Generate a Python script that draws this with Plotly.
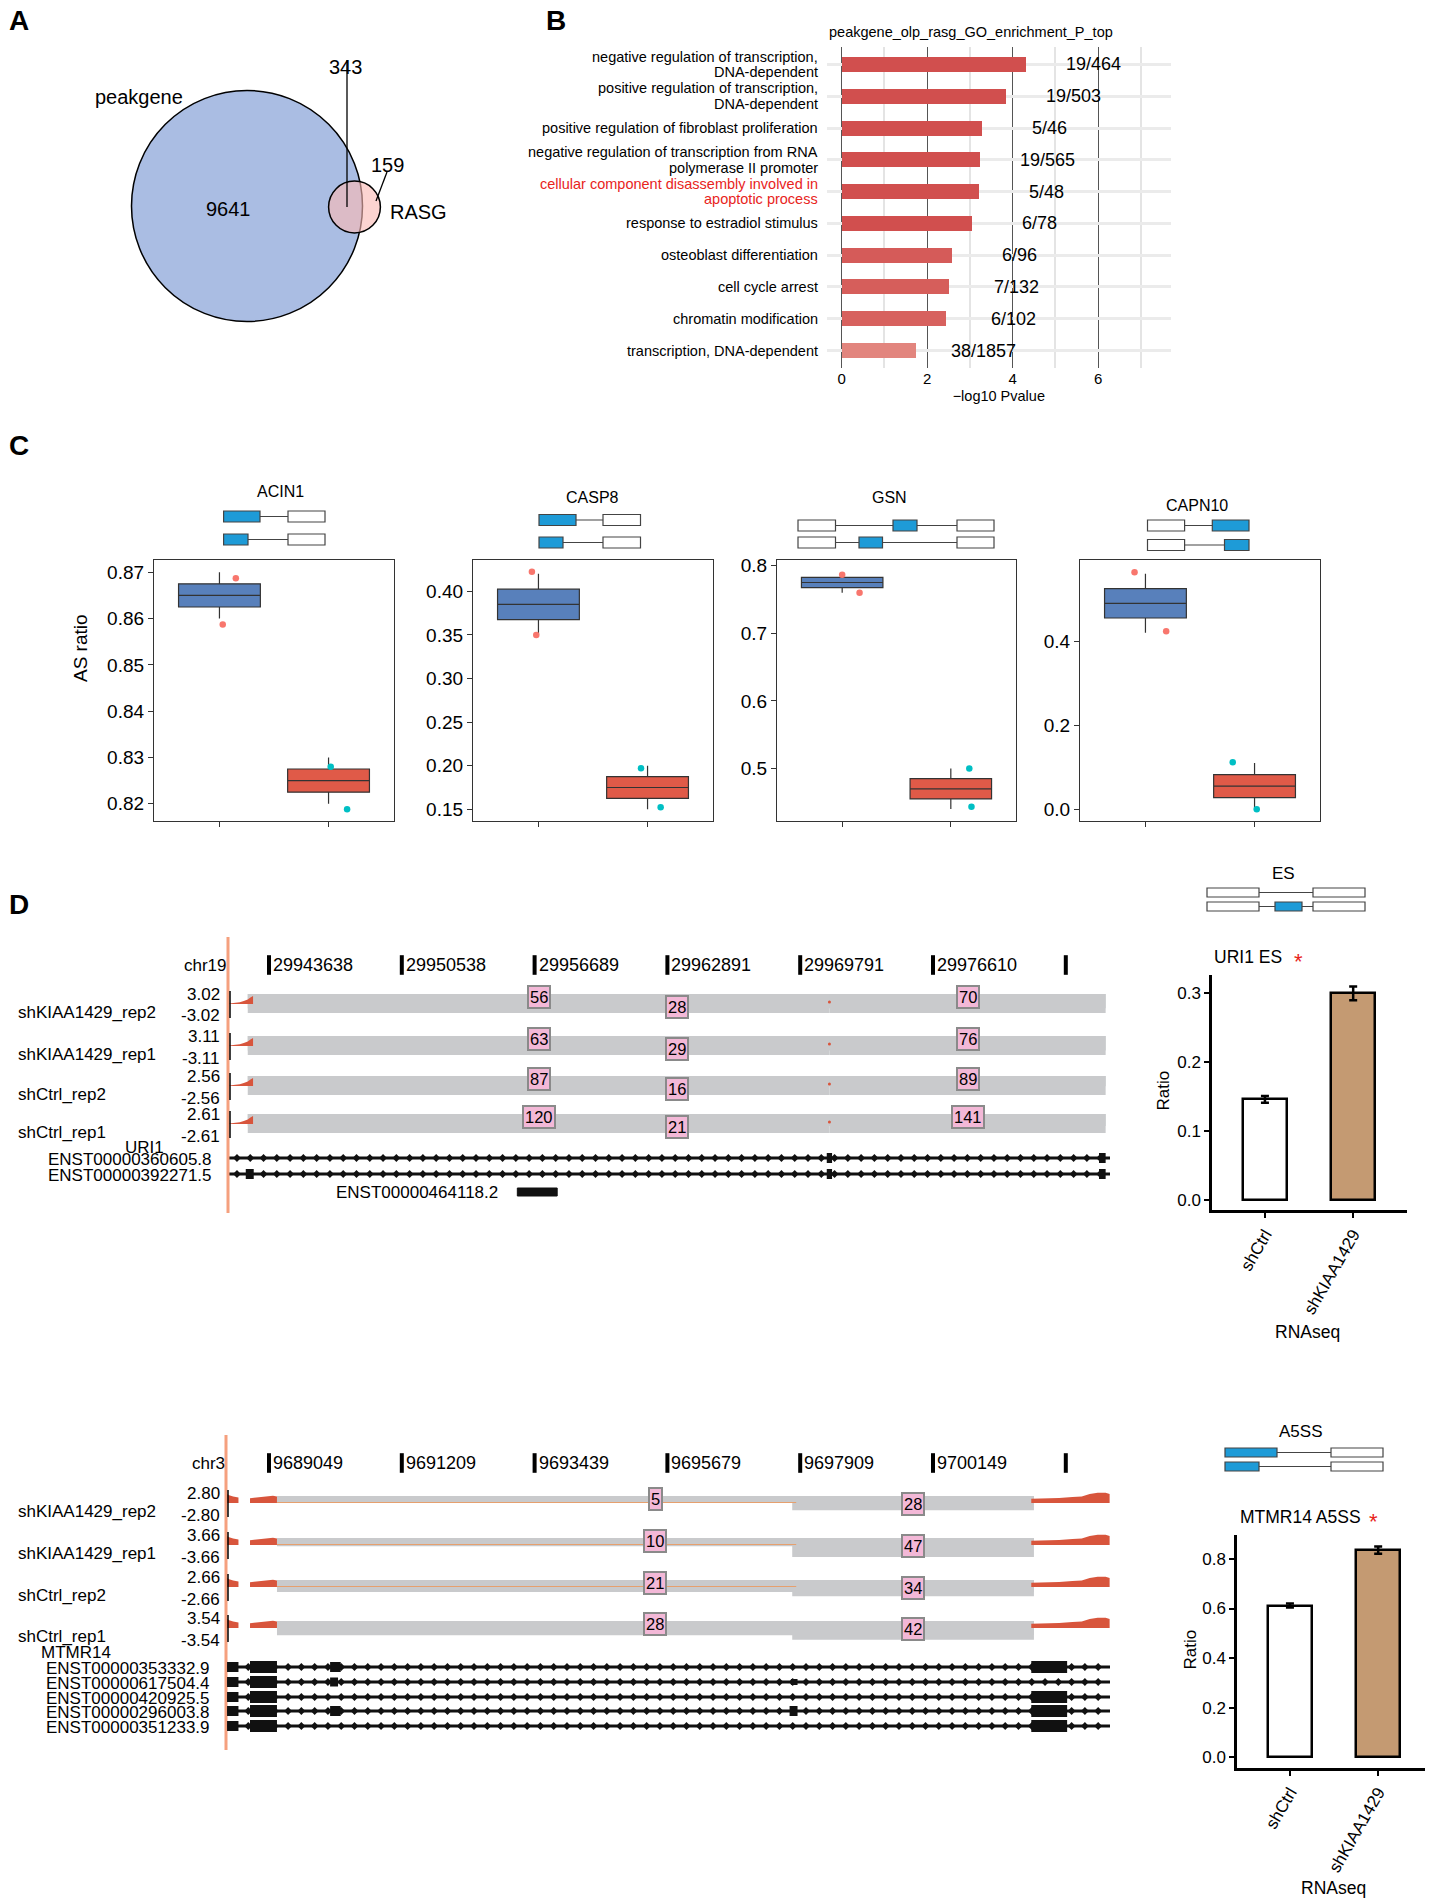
import numpy as np
import plotly.graph_objects as go

W, H = 1433, 1899
OFF = 8                      # the page body has an 8px margin
FW, FH = W - OFF, H - OFF
FONT = "Liberation Sans, Arial, Helvetica, sans-serif"

# ---------------- A: venn counts ----------------
venn_names = ["peakgene", "RASG"]
peak_only = 9641
shared = 343
rasg_only = 159

# ---------------- B: GO enrichment ----------------
go_terms = [
    "negative regulation of transcription,<br>DNA-dependent",
    "positive regulation of transcription,<br>DNA-dependent",
    "positive regulation of fibroblast proliferation",
    "negative regulation of transcription from RNA<br>polymerase II promoter",
    "cellular component disassembly involved in<br>apoptotic process",
    "response to estradiol stimulus",
    "osteoblast differentiation",
    "cell cycle arrest",
    "chromatin modification",
    "transcription, DNA-dependent",
]
go_logp = [4.30, 3.83, 3.28, 3.22, 3.20, 3.03, 2.56, 2.50, 2.43, 1.73]
go_counts = ["19/464", "19/503", "5/46", "19/565", "5/48", "6/78", "6/96", "7/132", "6/102", "38/1857"]
go_red = [4]

# ---------------- C: AS ratio per group (2 replicates) ----------------
box_genes = ["ACIN1", "CASP8", "GSN", "CAPN10"]
left_vals = [[0.860, 0.870], [0.350, 0.420], [0.760, 0.790], [0.420, 0.560]]
right_vals = [[0.820, 0.830], [0.150, 0.200], [0.440, 0.500], [0.000, 0.110]]
left_pts = [[0.8687, 0.8587], [0.4225, 0.3500], [0.7865, 0.7597], [0.5636, 0.4237]]
left_jit = [[0.15, 0.03], [-0.06, -0.02], [0.00, 0.16], [-0.10, 0.19]]
right_pts = [[0.8280, 0.8188], [0.1970, 0.1525], [0.5000, 0.4435], [0.1115, 0.0000]]
right_jit = [[0.02, 0.17], [-0.06, 0.12], [0.17, 0.19], [-0.20, 0.02]]

# ---------------- D: sashimi tracks ----------------
samples = ["shKIAA1429_rep2", "shKIAA1429_rep1", "shCtrl_rep2", "shCtrl_rep1"]

uri1_coords = ["29943638", "29950538", "29956689", "29962891", "29969791", "29976610", ""]
uri1_scale = [3.02, 3.11, 2.56, 2.61]
uri1_junc = [(-0.16, 4.22), (-0.16, 6.30), (4.22, 6.30)]
uri1_counts = [[56, 28, 70], [63, 29, 76], [87, 16, 89], [120, 21, 141]]
uri1_tx = ["ENST00000360605.8", "ENST00000392271.5"]
uri1_exons = [
    [(4.20, 4.24, 10), (6.25, 6.30, 10)],
    [(-0.175, -0.115, 10), (4.20, 4.24, 10), (6.25, 6.30, 10)],
]
uri1_short_tx = ("ENST00000464118.2", 1.87, 2.17)

mtmr14_coords = ["9689049", "9691209", "9693439", "9695679", "9697909", "9700149", ""]
mtmr14_scale = [2.80, 3.66, 2.66, 3.54]
mtmr14_junc = [(0.06, 5.76), (3.94, 5.76)]
mtmr14_counts = [[5, 28], [10, 47], [21, 34], [28, 42]]
mtmr14_tx = ["ENST00000353332.9", "ENST00000617504.4", "ENST00000420925.5",
             "ENST00000296003.8", "ENST00000351233.9"]
mtmr14_exons = [
    [(-0.316, -0.23, 10), (-0.143, 0.06, 12), (0.46, 0.54, 10), (5.74, 6.01, 12)],
    [(-0.316, -0.23, 10), (-0.143, 0.06, 12), (0.46, 0.52, 9), (3.93, 3.98, 6)],
    [(-0.316, -0.23, 10), (-0.143, 0.06, 12), (5.74, 6.01, 12)],
    [(-0.316, -0.23, 10), (-0.143, 0.06, 12), (0.46, 0.54, 10), (3.92, 3.98, 10), (5.74, 6.01, 12)],
    [(-0.316, -0.23, 10), (-0.143, 0.06, 12), (5.74, 6.01, 12)],
]

# coverage shapes (position, fraction of row max)
uri1_cov = [([-0.30, -0.26, -0.22, -0.19, -0.16, -0.14, -0.125, -0.12],
             [0.06, 0.10, 0.18, 0.30, 0.45, 0.65, 0.80, 0.80])]
mtmr14_cov = [([-0.316, -0.30, -0.27, -0.25, -0.23], [0.75, 0.65, 0.55, 0.5, 0.45]),
              ([-0.143, -0.10, -0.05, 0.0, 0.03, 0.06], [0.40, 0.45, 0.55, 0.60, 0.60, 0.55]),
              ([5.74, 5.85, 5.95, 6.05, 6.12, 6.18, 6.24, 6.30, 6.33],
               [0.35, 0.38, 0.42, 0.50, 0.55, 0.75, 0.85, 0.85, 0.75])]

# ---------------- D: ratio bars ----------------
conds = ["shCtrl", "shKIAA1429"]
uri1_ratio = [0.146, 0.300]
uri1_err = [0.005, 0.010]
mtmr14_ratio = [0.612, 0.836]
mtmr14_err = [0.008, 0.015]


# ---------------- helpers (page pixels -> paper) ----------------
def px(x):
    return (x - OFF) / FW


def py(y):
    return 1 - (y - OFF) / FH


def xdom(a, b):
    return [px(a), px(b)]


def ydom(top, bot):
    return [py(bot), py(top)]


fig = go.Figure()
shapes, annos, axes = [], [], {}


def note(x, y, s, size=17, color="black", xanchor="center", angle=0, xref="paper", yref="paper", **kw):
    if xref == "paper":
        x = px(x)
    if yref == "paper":
        y = py(y)
    annos.append(dict(x=x, y=y, xref=xref, yref=yref, text=s, showarrow=False,
                      xanchor=xanchor, yanchor="middle", textangle=angle,
                      font=dict(size=size, color=color, family=FONT), **kw))


def rect_px(x0, y0, x1, y1, fill, line="#444444", lw=1.2):
    shapes.append(dict(type="rect", xref="paper", yref="paper", x0=px(x0), x1=px(x1),
                       y0=py(y1), y1=py(y0), fillcolor=fill, line=dict(color=line, width=lw)))


def seg_px(x0, y0, x1, y1, color="#444444", lw=1.2):
    shapes.append(dict(type="line", xref="paper", yref="paper", x0=px(x0), x1=px(x1),
                       y0=py(y0), y1=py(y1), line=dict(color=color, width=lw)))


BLUE = "#1e9bd7"


def diagram(rows, h):
    for yc, blocks in rows:
        seg_px(blocks[0][0], yc, blocks[-1][1], yc)
        for x0, x1, fill in blocks:
            rect_px(x0, yc - h / 2, x1, yc + h / 2, fill)


# panel letters
note(7, 20, "<b>A</b>", size=28, xanchor="left")
note(556, 20, "<b>B</b>", size=28)
note(7, 445, "<b>C</b>", size=28, xanchor="left")
note(7, 905, "<b>D</b>", size=28, xanchor="left")

# ================= A: venn =================
axes["xaxis"] = dict(domain=xdom(8, 480), range=[8, 480], visible=False, anchor="y")
axes["yaxis"] = dict(domain=ydom(8, 420), range=[420, 8], visible=False, anchor="x")
k = 115.5 / np.sqrt(peak_only + shared)
R = k * np.sqrt(peak_only + shared)
r = k * np.sqrt(shared + rasg_only)
cx1, cy1, cx2, cy2 = 247, 206, 354.5, 207
shapes.append(dict(type="circle", xref="x", yref="y", x0=cx1 - R, x1=cx1 + R, y0=cy1 - R, y1=cy1 + R,
                   fillcolor="#aabde3", line=dict(color="black", width=1.5)))
shapes.append(dict(type="circle", xref="x", yref="y", x0=cx2 - r, x1=cx2 + r, y0=cy2 - r, y1=cy2 + r,
                   fillcolor="rgba(250,185,180,0.62)", line=dict(color="black", width=1.5)))
shapes.append(dict(type="line", xref="x", yref="y", x0=347, x1=347, y0=60, y1=207, line=dict(color="black", width=1.3)))
shapes.append(dict(type="line", xref="x", yref="y", x0=387, x1=376, y0=172, y1=201, line=dict(color="black", width=1.3)))
note(139, 97, venn_names[0], size=20, xref="x", yref="y")
note(418, 212, venn_names[1], size=20, xref="x", yref="y")
note(228, 209, str(peak_only), size=20, xref="x", yref="y")
note(345, 67, str(shared), size=20, xref="x", yref="y")
note(387, 165, str(rasg_only), size=20, xref="x", yref="y")

# ================= B: GO bars =================
axes["xaxis2"] = dict(domain=xdom(826.6, 1171), range=[-0.35, 7.7], anchor="y2",
                      tickvals=[0, 2, 4, 6], showgrid=True, gridcolor="#555555", gridwidth=1,
                      minor=dict(tickvals=[1, 3, 5, 7], showgrid=True, gridcolor="#e4e4e4", gridwidth=1.5),
                      zeroline=False, ticks="", tickfont=dict(size=15, family=FONT),
                      title=dict(text="\u2212log10 Pvalue", font=dict(size=14.5, family=FONT), standoff=4))
axes["yaxis2"] = dict(domain=ydom(47, 368), range=[9.55, -0.55], anchor="x2",
                      tickvals=list(range(len(go_terms))), ticktext=[""] * len(go_terms),
                      showgrid=True, gridcolor="#ebebeb", gridwidth=2.5, zeroline=False, ticks="")
fig.add_trace(go.Bar(x=go_logp, y=list(range(len(go_terms))), orientation="h", width=0.47,
                     marker=dict(color=go_logp, colorscale=[[0, "#e2867f"], [1, "#d14f4e"]],
                                 cmin=1.7, cmax=2.8, line=dict(width=0)),
                     xaxis="x2", yaxis="y2", hoverinfo="skip"))
# term labels (one annotation per line, tight line spacing like the original)
for i, t in enumerate(go_terms):
    lines = t.split("<br>")
    col = "#e8241c" if i in go_red else "black"
    for j, s in enumerate(lines):
        dy = (j - (len(lines) - 1) / 2) * 0.49
        annos.append(dict(x=px(820), y=i + dy, xref="paper", yref="y2", text=s, showarrow=False,
                          xanchor="right", yanchor="middle",
                          font=dict(size=14.5, family=FONT, color=col)))
for i, (v, c) in enumerate(zip(go_logp, go_counts)):
    note(v, i, c, size=18, xref="x2", yref="y2", xshift=68)
note(971, 32, "peakgene_olp_rasg_GO_enrichment_P_top", size=14.5)

# ================= C: boxplots =================
box_dom = [(154, 394), (473, 713), (777, 1016), (1080, 1320)]
box_rng = [(0.81627, 0.87265), (0.1366, 0.4359), (0.4224, 0.8083), (-0.028, 0.593)]
box_dtick = [0.01, 0.05, 0.1, 0.2]
box_fmt = [".2f", ".2f", ".1f", ".1f"]
for i, g in enumerate(box_genes):
    n = 3 + i
    xa, ya = "x%d" % n, "y%d" % n
    axes["xaxis%d" % n] = dict(domain=xdom(*box_dom[i]), range=[0.4, 2.6], anchor=ya,
                               tickvals=[1, 2], ticktext=["", ""], ticks="outside", ticklen=5,
                               tickcolor="#333333", showline=True, mirror=True, linecolor="#333333",
                               linewidth=1.3, showgrid=False, zeroline=False)
    axes["yaxis%d" % n] = dict(domain=ydom(560, 821), range=list(box_rng[i]), anchor=xa,
                               dtick=box_dtick[i], tick0=0, tickformat=box_fmt[i], ticks="outside",
                               ticklen=5, tickcolor="#333333", showline=True, mirror=True,
                               linecolor="#333333", linewidth=1.3, showgrid=False, zeroline=False,
                               tickfont=dict(size=19, family=FONT, color="black"))
    for pos, vals, fill, pts, jit, pcol in [(1, left_vals[i], "#5880bb", left_pts[i], left_jit[i], "#f8766d"),
                                            (2, right_vals[i], "#e05a48", right_pts[i], right_jit[i], "#00bfc4")]:
        q1, med, q3 = np.percentile(vals, [25, 50, 75])
        fig.add_trace(go.Box(x=[pos], q1=[q1], median=[med], q3=[q3], lowerfence=[min(vals)],
                             upperfence=[max(vals)], width=0.75, whiskerwidth=0, fillcolor=fill,
                             line=dict(color="#333333", width=1.2), boxpoints=False,
                             xaxis=xa, yaxis=ya, hoverinfo="skip"))
        fig.add_trace(go.Scatter(x=[pos + j for j in jit], y=pts, mode="markers",
                                 marker=dict(size=6.5, color=pcol), xaxis=xa, yaxis=ya, hoverinfo="skip"))
note(80, 648, "AS ratio", size=19, angle=-90)

# gene titles and exon cartoons
note(280, 492, "ACIN1", size=16)
note(592, 497, "CASP8", size=16)
note(890, 497, "GSN", size=16)
note(1196.5, 505, "CAPN10", size=16)
diagram([(516.5, [(223.6, 260, BLUE), (288, 325, "white")]),
         (539.5, [(223.6, 248, BLUE), (288, 325, "white")])], 11)
diagram([(520, [(539, 576, BLUE), (603, 640.5, "white")]),
         (542.5, [(539, 563, BLUE), (603, 640.5, "white")])], 11)
diagram([(525.5, [(798, 835.5, "white"), (893, 917, BLUE), (957, 994, "white")]),
         (542.5, [(798, 835.5, "white"), (859, 882.5, BLUE), (957, 994, "white")])], 11)
diagram([(525.5, [(1147.5, 1184.6, "white"), (1212.3, 1249, BLUE)]),
         (545, [(1147.5, 1184.6, "white"), (1224.5, 1249, BLUE)])], 11)

# ================= D: sashimi =================
T0, TS = 269.0, 132.8


def u(p):
    return (p - T0) / TS


def sashimi(n, top, bot, line_x, chrom, coords, tick_y, scales, bases, junc, counts,
            label_dy, band_off, cov, cov_h):
    xa, ya = "x%d" % n, "y%d" % n
    axes["xaxis%d" % n] = dict(domain=xdom(line_x, 1112), range=[u(line_x), u(1112)],
                               visible=False, anchor=ya)
    axes["yaxis%d" % n] = dict(domain=ydom(top, bot), range=[bot, top], visible=False, anchor=xa)
    seg_px(line_x, top, line_x, bot, color="#f5a07e", lw=3)
    fig.add_trace(go.Scatter(x=list(range(len(coords))), y=[tick_y] * len(coords), mode="markers",
                             marker=dict(symbol="line-ns", size=14, line=dict(width=4, color="black")),
                             xaxis=xa, yaxis=ya, hoverinfo="skip"))
    for i, c in enumerate(coords):
        annos.append(dict(x=i, y=tick_y, xref=xa, yref=ya, text=c, showarrow=False, xanchor="left",
                          yanchor="middle", xshift=2, font=dict(size=18, family=FONT, color="black")))
    note(line_x + 1, tick_y, chrom, xanchor="right")
    for i, name in enumerate(samples):
        b = bases[i]
        bt = b + band_off
        for (j0, j1), c in zip(junc, counts[i]):
            t = min(5 + 0.33 * c, 19)
            fig.add_trace(go.Scatter(x=[j0, j1, j1, j0, j0], y=[bt, bt, bt + t, bt + t, bt],
                                     fill="toself", fillcolor="#c9cacc", mode="lines",
                                     line=dict(width=0), xaxis=xa, yaxis=ya, hoverinfo="skip"))
        for xs, fs in cov:
            fig.add_trace(go.Scatter(x=xs + xs[::-1], y=[b - f * cov_h for f in fs] + [b] * len(xs),
                                     fill="toself", fillcolor="#d8553c", mode="lines",
                                     line=dict(width=0), xaxis=xa, yaxis=ya, hoverinfo="skip"))
        for (j0, j1), c, dy in zip(junc, counts[i], label_dy):
            annos.append(dict(x=(j0 + j1) / 2, y=bt + dy, xref=xa, yref=ya, text=str(c),
                              showarrow=False, bgcolor="#f3b8d7", bordercolor="#8a8a8a",
                              borderwidth=2, borderpad=1, font=dict(size=16.5, family=FONT, color="black")))
        note(222, b - 10, "%.2f" % scales[i], xanchor="right")
        note(222, b + 12, "-%.2f" % scales[i], xanchor="right")
        seg_px(line_x + 2, b - 13, line_x + 2, b + 14, color="black", lw=1.5)
        note(16, b + 8, name, xanchor="left")


def transcripts(n, names, ys, x0, x1, exons, name_x):
    xa, ya = "x%d" % n, "y%d" % n
    for name, y, ex in zip(names, ys, exons):
        fig.add_trace(go.Scatter(x=[x0, x1], y=[y, y], mode="lines", line=dict(color="#111111", width=3),
                                 xaxis=xa, yaxis=ya, hoverinfo="skip"))
        arr = np.arange(x0 + 0.06, x1 - 0.04, 0.1)
        fig.add_trace(go.Scatter(x=arr, y=[y] * len(arr), mode="markers",
                                 marker=dict(symbol="diamond", size=6, color="#111111"),
                                 xaxis=xa, yaxis=ya, hoverinfo="skip"))
        for e0, e1, h in ex:
            shapes.append(dict(type="rect", xref=xa, yref=ya, x0=e0, x1=e1, y0=y - h / 2, y1=y + h / 2,
                               fillcolor="#111111", line=dict(width=0)))
        note(name_x, y + 1, name, xanchor="right")


# URI1
uri_base = [1004, 1046, 1086, 1124]
sashimi(7, 937, 1213, 228, "chr19", uri1_coords, 965, uri1_scale, uri_base,
        uri1_junc, uri1_counts, [3, 13, 3], -10, uri1_cov, 10)
for b in uri_base:
    fig.add_trace(go.Scatter(x=[4.22], y=[b - 2], mode="markers", marker=dict(size=3, color="#d8553c"),
                             xaxis="x7", yaxis="y7", hoverinfo="skip"))
note(144, 1147, "URI1")
transcripts(7, uri1_tx, [1158, 1174], u(229), u(1110), uri1_exons, 213.5)
note(417, 1192, uri1_short_tx[0])
shapes.append(dict(type="rect", xref="x7", yref="y7", x0=uri1_short_tx[1], x1=uri1_short_tx[2],
                   y0=1188, y1=1196, fillcolor="#111111", line=dict(color="#111111", width=1)))

# MTMR14
mt_base = [1503, 1545, 1587, 1628]
sashimi(8, 1435, 1750, 226, "chr3", mtmr14_coords, 1463, mtmr14_scale, mt_base,
        mtmr14_junc, mtmr14_counts, [3, 8], -7, mtmr14_cov, 12)
for b in mt_base[:3]:
    fig.add_trace(go.Scatter(x=[0.06, 3.97], y=[b - 0.5, b - 0.5], mode="lines",
                             line=dict(color="#e6a06e", width=1), xaxis="x8", yaxis="y8", hoverinfo="skip"))
note(76, 1652, "MTMR14")
transcripts(8, mtmr14_tx, [1667, 1682, 1697, 1711, 1726], u(227), u(1110), mtmr14_exons, 211.5)

# ================= D: ratio bars =================
TAN = "#c49a72"


def ratio_bars(n, xd, yd, rng, tvals, vals, err, title, tx, ty, star_x, ratio_x, rnaseq_xy):
    xa, ya = "x%d" % n, "y%d" % n
    axes["xaxis%d" % n] = dict(domain=xdom(*xd), type="category", range=[-0.6, 1.61], anchor=ya,
                               tickangle=-60, ticks="outside", ticklen=5, tickwidth=2, tickcolor="black",
                               showline=True, linecolor="black", linewidth=2.5, showgrid=False,
                               tickfont=dict(size=17, family=FONT, color="black"))
    axes["yaxis%d" % n] = dict(domain=ydom(*yd), range=rng, anchor=xa, tickvals=tvals, tickformat=".1f",
                               ticks="outside", ticklen=5, tickwidth=2, tickcolor="black", showline=True,
                               linecolor="black", linewidth=2.5, showgrid=False, zeroline=False,
                               tickfont=dict(size=17, family=FONT, color="black"))
    fig.add_trace(go.Bar(x=conds, y=vals, width=0.5,
                         marker=dict(color=["white", TAN], line=dict(color="black", width=2.5)),
                         error_y=dict(type="data", array=err, thickness=2.5, width=4, color="black"),
                         xaxis=xa, yaxis=ya, hoverinfo="skip"))
    note(tx, ty, title, size=17.5, xanchor="left")
    note(star_x, ty + 4, "*", size=22, color="#e8241c")
    note(ratio_x, (yd[0] + yd[1]) / 2 - 2, "Ratio", size=17, angle=-90)
    note(rnaseq_xy[0], rnaseq_xy[1], "RNAseq", size=17.5)


note(1283, 873, "ES", size=17)
diagram([(892.5, [(1207, 1259, "white"), (1313, 1365, "white")]),
         (906.5, [(1207, 1259, "white"), (1275, 1302, BLUE), (1313, 1365, "white")])], 9)
ratio_bars(9, (1212, 1407), (975, 1210), [-0.0145, 0.3266], [0, 0.1, 0.2, 0.3], uri1_ratio, uri1_err,
           "URI1 ES", 1212, 957, 1298, 1163, (1307, 1332))

note(1300, 1431, "A5SS", size=17)
diagram([(1452.5, [(1225, 1277, BLUE), (1331, 1383, "white")]),
         (1466.5, [(1225, 1259, BLUE), (1331, 1383, "white")])], 9)
ratio_bars(10, (1237, 1432), (1535, 1768), [-0.044, 0.897], [0, 0.2, 0.4, 0.6, 0.8], mtmr14_ratio,
           mtmr14_err, "MTMR14 A5SS", 1238, 1517, 1373, 1190, (1333, 1888))

fig.update_layout(width=FW, height=FH, margin=dict(l=0, r=0, t=0, b=0), showlegend=False,
                  template="none", paper_bgcolor="white", plot_bgcolor="white",
                  font=dict(family=FONT, color="black"), shapes=shapes, annotations=annos,
                  bargap=0, **axes)
fig.write_html("out.html")
